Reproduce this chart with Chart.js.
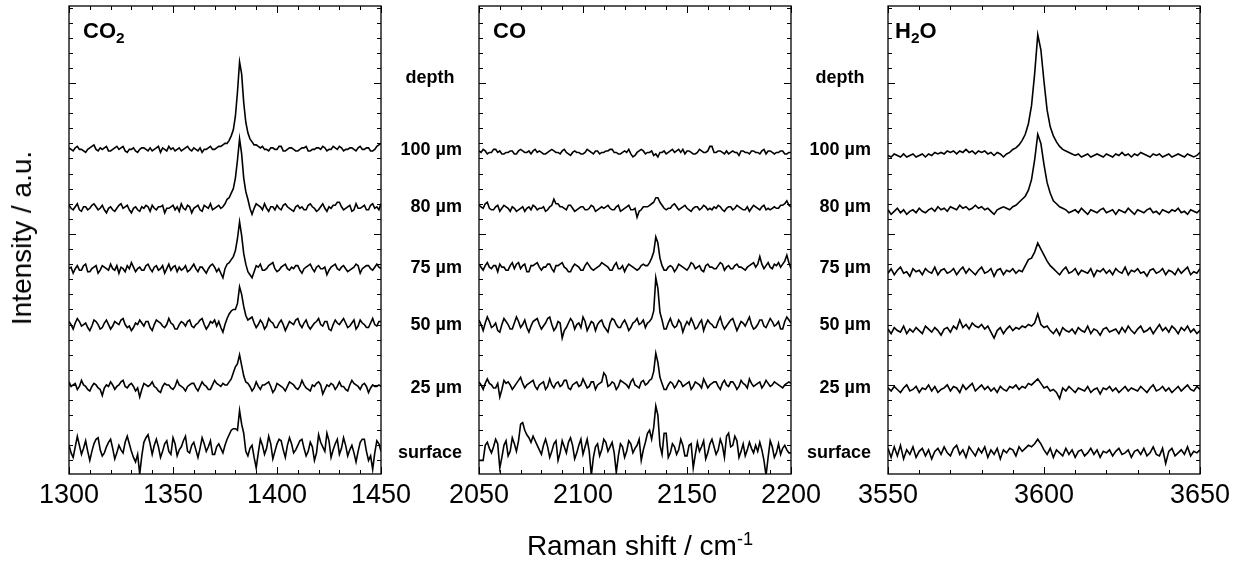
<!DOCTYPE html>
<html>
<head>
<meta charset="utf-8">
<script src="https://cdn.jsdelivr.net/npm/chart.js@4.4.1/dist/chart.umd.min.js"></script>
<style>
  body { margin: 0; background: #fff; }
  #wrap { position: relative; width: 1236px; height: 564px; overflow: hidden;
          font-family: 'Liberation Sans', Arial, sans-serif; color: #000; }
  #wrap canvas { position: absolute; left: 0; top: 0; }
  .lbl { position: absolute; white-space: nowrap; line-height: 1; }
  .depth { font-weight: bold; font-size: 18px; }
  .gas { font-weight: bold; font-size: 22px; }
  .axt { font-size: 28px; }
  sub { font-size: 0.7em; vertical-align: -0.3em; }
  sup { font-size: 0.65em; vertical-align: 0.6em; }
</style>
</head>
<body>
<div id="wrap">
  <canvas id="c0" width="1236" height="564"></canvas>
  <canvas id="c1" width="1236" height="564"></canvas>
  <canvas id="c2" width="1236" height="564"></canvas>
  <div class="lbl gas" style="left:83px;top:20px">CO<sub>2</sub></div>
  <div class="lbl gas" style="left:493px;top:20px">CO</div>
  <div class="lbl gas" style="left:895px;top:20px">H<sub>2</sub>O</div>
  <div class="lbl axt" style="left:22px;top:238px;transform:translate(-50%,-50%) rotate(-90deg)">Intensity / a.u.</div>
  <div class="lbl axt" style="left:640px;top:545px;transform:translate(-50%,-50%)">Raman shift / cm<sup>-1</sup></div>
</div>
<script>
// depth labels, top to bottom
const depths = ['100 µm', '80 µm', '75 µm', '50 µm', '25 µm', 'surface'];

// CO2 band, 1300-1450 cm-1, every 1 cm-1 (151 points); values relative to each trace baseline
const co2Shift = Array.from({length: 151}, (_, i) => 1300 + i);
const co2_100 = [1,0,-1,1,2,0,0,-1,-2,0, 1,2,3,0,-1,1,0,1,2,-1, -1,0,1,2,0,1,2,-1,-2,0, 0,1,-1,-2,0,1,1,0,-1,1,
  -1,0,1,2,-2,1,0,-1,2,0, 1,-1,0,1,-1,0,1,2,0,-1, 1,0,-1,1,-2,0,0,1,2,0, 0,1,2,2,3,4,4,6,9,13,
  22,38,58,50,31,18,11,7,5,3, 3,2,1,2,0,0,-1,1,1,0, 0,2,2,-1,-1,0,1,1,0,-1, -1,0,1,1,2,-1,-1,0,0,1,
  1,0,2,1,-1,0,0,2,1,0, 2,1,-1,0,0,1,1,0,-1,1, 2,0,0,1,1,-1,-1,0,2,3, 4];
const co2_80 = [2,0,-1,1,3,-1,-2,1,1,-1, 0,2,3,1,-1,0,2,-1,-3,0, 1,-1,-2,0,2,3,0,1,2,-1, -3,0,1,-1,-2,1,0,2,1,-2,
  2,0,-1,1,1,2,-3,0,0,1, 2,-1,1,-2,3,0,-1,2,1,-3, 0,1,2,-1,-2,2,1,0,3,-1, 0,1,2,0,1,3,6,7,10,13,
  20,32,46,36,20,11,6,0,-4,0, 3,2,1,-1,3,0,-2,1,1,-1, 2,0,-1,2,3,1,0,-1,-2,1, 2,0,1,-1,-1,2,3,1,0,-2,
  -1,1,3,0,-2,1,0,2,2,4, 4,1,-1,0,1,2,-2,-1,3,0, 0,1,2,-1,-1,2,3,0,1,-1, 3];
const co2_75 = [0,1,-3,0,2,-1,-1,2,3,-2, -2,0,1,2,-3,-1,2,1,0,-1, 3,0,-1,2,-3,1,0,-2,2,0, 4,1,-2,0,1,-1,-1,2,3,0,
  -2,1,2,-1,0,2,-3,0,3,-1, 1,2,-2,1,-1,0,2,-2,-1,1, 3,0,-2,1,1,-1,-3,0,2,3, 1,-2,0,-3,-6,0,3,4,6,8,
  12,20,31,22,10,3,-2,-4,-6,-2, 2,1,3,-1,-1,0,2,3,4,0, -2,-1,1,2,3,0,-1,1,0,2, 2,-1,-3,0,1,2,3,0,-2,1,
  2,0,0,1,-4,-1,1,2,3,0, -1,1,2,0,-2,-1,0,1,3,2, -3,0,1,2,2,0,-1,1,3,1, 0];
const co2_50 = [2,0,-3,1,4,2,-1,0,1,-2, -4,-1,3,2,0,-3,-2,1,3,0, -3,-1,2,1,0,3,4,0,-2,-1, -4,-2,1,0,3,1,-1,2,2,-2,
  -4,0,3,2,1,-1,-2,0,4,1, 0,-3,-3,0,2,1,-1,2,3,-1, -2,0,1,3,4,0,-3,-1,2,1, 3,-1,2,-2,-5,0,4,7,9,10,
  10,14,25,20,12,6,3,4,5,1, -2,0,3,1,-3,-1,4,2,1,-2, -2,1,3,0,-4,-1,2,1,0,3, 4,0,-2,1,3,-1,-3,-1,1,2,
  4,0,-1,2,2,-3,-4,0,3,1, 0,2,4,1,-2,-1,1,3,-3,-1, 3,1,0,-2,-2,1,4,0,-1,2, 2];
const co2_25 = [3,0,1,2,-2,0,4,1,0,-2, -3,0,2,1,-1,-2,-6,-1,1,0, 3,1,-2,0,1,3,4,0,-1,1, 2,0,-3,-1,-7,-2,2,1,0,1,
  3,0,-1,-3,-4,0,2,1,1,-1, -2,0,4,1,0,-1,-3,0,1,2, 2,-1,-3,0,3,1,0,-2,-2,1, 4,2,1,0,2,1,1,3,5,9,
  13,15,21,14,7,3,2,0,-3,-1, 3,0,-2,1,1,2,3,0,-4,-2, 2,1,0,-1,-3,0,3,2,1,-1, -2,0,4,1,-1,-2,-3,1,0,2,
  3,1,-5,-2,1,0,2,1,-2,0, 3,0,0,-2,-3,1,4,2,1,0, -2,1,2,0,-4,-1,1,0,0,1, 0];
const co2_surf = [2,-3,-6,1,8,2,-4,0,5,-2, -8,-2,3,6,7,-1,-5,-3,1,4, 6,0,-7,-3,2,-1,-3,4,8,3, -2,-6,-9,-4,-17,-5,4,7,9,3,
  -4,2,6,1,-6,-2,3,5,-2,-4, 7,3,-5,-1,1,5,8,-2,-3,2, 4,-1,-6,0,7,3,-2,1,5,-4, -4,1,3,0,-3,2,6,9,12,13,
  13,12,25,16,10,-2,-5,0,2,-6, -13,-3,6,2,-4,0,8,3,-7,-2, 3,6,5,-1,-6,2,7,3,-3,-1, 2,5,6,0,-5,-2,4,1,-8,-3,
  9,4,1,-2,10,5,-6,-1,3,6, -4,0,7,2,-5,-1,2,-3,-9,-2, 4,6,6,-2,-8,-5,-14,-3,5,3, -2];
const co2Base = [156, 117, 77, 40, -1, -42];

// CO band, 2050-2200 cm-1, every 1 cm-1 (151 points)
const coShift = Array.from({length: 151}, (_, i) => 2050 + i);
const co_100 = [1,0,2,1,-1,0,0,2,2,0, 1,-1,-1,0,0,1,1,-1,-1,1, 2,1,0,0,1,-1,1,2,0,1, 0,-1,-1,0,1,2,1,0,0,-1,
  1,2,0,-1,-2,0,1,0,0,-1, -1,0,2,1,0,-1,1,1,-1,0, 0,1,1,2,2,0,0,-1,-1,0, 1,0,2,-1,-3,-2,0,1,2,1,
  -1,0,0,1,-2,-1,-3,0,0,1, -1,0,1,2,0,1,2,0,2,-1, 1,1,0,-1,-1,0,2,1,0,0, 1,4,4,0,0,1,1,0,-1,1,
  -1,0,1,0,0,-2,1,1,0,0, -1,1,1,0,0,-1,1,2,-1,1, 1,0,-1,0,0,1,1,-1,-1,0, 0];
const co_80 = [2,1,0,3,4,0,-1,-1,1,2, -2,0,2,1,0,-2,1,0,-2,-1, 0,1,-2,0,1,-1,2,1,-1,0, 0,1,-2,-1,1,2,6,3,3,1,
  1,0,-1,2,2,0,-2,-1,0,1, 1,-1,-1,0,2,1,-2,-1,0,1, 0,1,2,0,-1,-1,1,2,-2,-1, 0,1,2,-1,-1,0,-6,-2,-1,1,
  1,1,2,3,4,7,7,4,2,0, -1,0,0,2,3,1,-1,0,1,2, 0,-1,-2,0,1,1,-1,0,2,1, -1,0,-1,1,0,2,1,-1,-2,0,
  1,1,-1,0,2,1,0,-1,-1,1, -2,0,2,1,0,-1,1,2,-1,0, -1,0,1,0,0,2,2,3,5,2, 1];
const co_75 = [2,0,-2,1,3,0,-1,1,1,-3, 2,0,0,-2,-2,1,3,-1,2,3, -1,1,2,-3,-3,1,1,2,3,0, -2,0,0,2,2,-1,-3,1,1,2,
  3,0,-1,-3,-3,0,2,1,0,-2, -2,1,3,1,-1,-2,-1,0,1,3, 2,1,0,-2,-2,1,3,-1,-1,1, -3,0,2,1,0,-1,-2,-1,1,2,
  1,1,3,6,10,20,16,6,1,-2, -2,0,1,0,-3,-1,2,1,0,-1, -2,0,3,2,-1,0,1,-2,-3,1, 2,0,0,-1,-1,1,3,2,-2,0,
  1,-1,-1,1,2,0,0,-1,-2,0, 1,2,3,0,2,7,2,-1,1,3, 0,-1,2,1,3,0,2,4,8,3, -1];
const co_50 = [3,0,-4,1,5,2,-2,-1,1,-4, -5,0,4,2,0,-3,-3,1,5,2, -2,0,3,-2,-5,-1,2,3,4,0, -3,-1,1,4,5,0,-4,-2,2,1,
  -9,-4,-2,1,4,2,-3,0,1,-2, 5,2,-4,-1,2,1,-4,0,2,3, -1,-3,-5,1,4,3,0,-2,-2,1, 3,0,-4,-2,1,2,4,0,1,3,
  -2,1,2,4,9,31,24,8,3,-3, -3,1,4,0,-2,-1,3,1,-5,-1, 2,0,4,1,-3,-2,1,3,-4,0, 3,1,0,-2,-2,2,5,0,-3,-1,
  1,3,4,0,-4,-1,2,1,-1,2, 5,0,-3,-2,0,3,3,-1,-2,1, 4,2,-1,0,2,-3,-3,2,5,3, 1];
const co_25 = [2,0,-3,1,4,1,0,-2,-2,1, -8,-3,3,1,2,0,-3,-1,1,3, 5,1,-2,0,1,2,3,-1,-3,0, 1,2,-3,-1,4,0,-2,1,2,-1,
  0,3,3,-2,-3,0,1,2,-1,0, 4,1,-2,-1,2,2,-3,0,1,2, 8,6,-1,0,2,1,-3,-1,3,2, 1,0,-2,2,4,0,-1,-2,2,3,
  0,1,3,4,9,21,15,5,1,-3, -3,0,2,1,-2,0,3,2,-1,0, 1,2,-3,-1,2,1,0,-2,4,1, -2,0,1,2,2,-1,-3,1,3,0,
  -1,2,2,0,-3,-1,3,1,0,-2, 4,1,-1,0,1,2,-2,0,3,1, -1,0,2,1,0,-1,-2,0,1,2, 1];
const co_surf = [-8,-8,-8,2,4,0,-3,1,6,3, -13,-6,2,5,-5,-2,7,3,-2,5, 16,17,12,9,7,4,8,5,2,-1, -4,2,6,1,-6,-2,3,5,-8,-3,
  5,1,-3,4,7,2,-7,-3,2,6, -4,1,6,-2,-18,-6,1,3,-5,-1, 6,4,-2,1,4,-3,-16,-5,3,1, -6,-2,5,3,-3,0,2,6,-8,-1,
  4,10,12,6,14,28,22,2,-4,10, 10,-6,-3,3,1,-4,-1,6,2,-5, -5,2,3,-13,-4,4,-2,1,5,-7, -3,3,6,1,-4,-1,6,2,-6,8,
  10,1,2,8,5,-6,-2,3,-5,-1, 4,0,-3,2,-2,4,-1,-8,-18,-6, 5,1,-6,-3,3,-4,0,2,-1,-3, -3];
const coBase = [154, 117, 78, 40, 0, -42];

// H2O band, 3550-3650 cm-1, every 1 cm-1 (101 points)
const h2oShift = Array.from({length: 101}, (_, i) => 3550 + i);
const h2o_100 = [0,-1,1,0,-1,1,-1,0,1,-1, 0,1,-1,1,0,2,1,2,1,3, 2,3,1,3,2,4,2,3,1,3, 2,3,1,2,0,2,1,-1,1,2,
  4,5,7,10,14,21,33,54,80,70, 49,30,19,13,9,6,4,3,2,1, 0,1,-1,0,1,-1,0,1,0,-1, 1,0,-1,1,0,2,0,1,-1,1,
  0,2,1,0,-1,1,0,1,-1,0, 1,-1,0,1,0,-1,1,0,-1,0,2];
const h2o_80 = [1,-2,0,2,-1,1,-2,0,1,-1, 2,0,-1,1,2,0,3,1,2,0, 3,2,1,4,2,3,1,2,4,2, 3,1,2,0,-2,1,2,3,2,1,
  3,4,6,8,10,14,21,34,51,45, 31,19,12,7,5,3,2,1,-1,0, 1,-1,2,0,-2,1,0,-1,1,2, -1,0,1,-2,1,0,-1,2,0,-2,
  1,0,-1,1,2,-1,0,-2,1,0, -1,1,0,2,-1,0,-2,1,0,-1,1];
const h2o_75 = [-1,2,-2,1,3,-1,0,-3,2,0, 1,-2,2,0,-1,3,-2,1,2,-1, 0,2,-2,1,3,-1,2,0,-2,1, 3,-1,0,2,-3,1,2,-2,1,0,
  2,-1,1,0,4,8,9,13,19,15, 11,7,4,2,0,-2,1,3,-1,0, 2,-2,1,0,-1,2,-3,1,0,2, -1,1,-2,2,0,-1,3,-2,1,0,
  2,-1,0,-3,1,2,-1,0,2,-2, 1,0,-2,2,-1,1,3,-2,0,-1,2];
const h2o_50 = [1,-2,2,0,-1,3,-2,1,-1,2, 0,-2,3,1,-1,2,0,-3,1,2, -1,3,1,7,2,4,1,5,3,2, 4,1,3,-1,-5,0,2,-2,1,3,
  0,2,1,3,2,4,3,5,11,4, 2,3,0,-2,1,-3,2,0,-1,1, -2,2,0,-1,3,-2,1,0,-3,1, 2,-1,0,1,-2,2,-1,3,0,-2,
  1,3,-1,0,2,-2,1,4,0,2, -1,3,1,-2,2,0,3,-1,1,-2,0];
const h2o_25 = [1,-1,2,0,-2,1,3,-1,0,2, -2,1,0,3,-1,2,-2,0,1,3, -1,2,1,-2,3,0,2,4,-1,1, 3,0,2,-1,1,-2,2,0,-1,2,
  1,3,0,2,1,4,3,5,7,4, 1,2,-1,0,-2,-6,1,-1,2,0, -2,1,0,-1,2,-2,0,1,-3,1, 0,2,-1,1,-2,0,2,-1,1,0,
  -1,2,0,-2,1,3,-1,0,2,-1, 1,-2,0,2,-1,1,3,0,-1,2,0];
const h2o_surf = [3,-3,4,-2,5,-4,2,-1,4,-3, 1,3,-2,2,-4,1,3,-1,4,0, -2,3,5,-1,2,-3,4,1,-2,3, 0,4,-3,2,-1,3,-4,2,0,3,
  2,-2,4,1,3,5,4,6,9,6, 2,-1,3,-3,2,0,-2,3,-1,2, -3,1,2,-2,0,3,-1,2,-3,1, 0,2,-2,1,3,-1,0,2,-3,1,
  2,-1,3,-2,0,4,-1,-2,3,-7, 1,3,-2,0,2,-1,4,-2,1,0,2];
const h2oBase = [152, 115, 75, 36, -3, -45];

const panels = [
  { id: 'c0', shift: co2Shift, traces: [co2_100, co2_80, co2_75, co2_50, co2_25, co2_surf], base: co2Base,
    min: 1300, max: 1450, left: 69, right: 381 },
  { id: 'c1', shift: coShift, traces: [co_100, co_80, co_75, co_50, co_25, co_surf], base: coBase,
    min: 2050, max: 2200, left: 479, right: 791 },
  { id: 'c2', shift: h2oShift, traces: [h2o_100, h2o_80, h2o_75, h2o_50, h2o_25, h2o_surf], base: h2oBase,
    min: 3550, max: 3650, left: 888, right: 1200 },
];

// frame + inward ticks on all four sides
const frameTicks = {
  id: 'frameTicks',
  afterDraw(chart) {
    const { ctx, chartArea: a, scales: { x, y } } = chart;
    ctx.save();
    ctx.strokeStyle = '#000';
    ctx.lineWidth = 1;
    ctx.beginPath();
    for (let v = x.min; v <= x.max; v += 10) {
      const px = Math.round(x.getPixelForValue(v)) + 0.5;
      const len = v % 50 === 0 ? 7 : 4;
      ctx.moveTo(px, a.bottom); ctx.lineTo(px, a.bottom - len);
      ctx.moveTo(px, a.top); ctx.lineTo(px, a.top + len);
    }
    for (let v = -50; v <= 250; v += 10) {
      const py = Math.round(y.getPixelForValue(v)) + 0.5;
      const len = v % 100 === 0 ? 7 : 4;
      ctx.moveTo(a.left, py); ctx.lineTo(a.left + len, py);
      ctx.moveTo(a.right, py); ctx.lineTo(a.right - len, py);
    }
    ctx.stroke();
    ctx.lineWidth = 1.3;
    ctx.strokeRect(a.left, a.top, a.right - a.left, a.bottom - a.top);
    ctx.restore();
  }
};

panels.forEach(p => {
  const datasets = p.traces.map((tr, t) => ({
    label: depths[t],
    data: p.shift.map((s, i) => ({ x: s, y: tr[i] + p.base[t] })),
    borderColor: '#000', borderWidth: 1.6, pointRadius: 0, tension: 0, fill: false
  }));
  new Chart(document.getElementById(p.id), {
    type: 'line',
    data: { datasets },
    options: {
      responsive: false, animation: false, devicePixelRatio: 1,
      layout: { padding: { left: p.left, right: 1236 - p.right, top: 6, bottom: 50 } },
      plugins: { legend: { display: false }, tooltip: { enabled: false } },
      scales: {
        x: { type: 'linear', min: p.min, max: p.max,
             afterFit: s => { s.height = 40; },
             grid: { display: false, drawTicks: false }, border: { display: false },
             ticks: { stepSize: 50, padding: 5, maxRotation: 0, color: '#000',
                      font: { family: "'Liberation Sans', Arial, sans-serif", size: 27 },
                      callback: v => String(v) } },
        y: { display: false, min: -59, max: 251 }
      }
    },
    plugins: [frameTicks]
  });
});

// depth labels in the two gaps
const depthTops = [149, 206, 267, 324, 387, 452];
const wrap = document.getElementById('wrap');
[{ right: 462, mid: 430 }, { right: 871, mid: 840 }].forEach(g => {
  const d = document.createElement('div');
  d.className = 'lbl depth';
  d.textContent = 'depth';
  d.style.left = g.mid + 'px';
  d.style.top = (77 - 9) + 'px';
  d.style.transform = 'translateX(-50%)';
  wrap.appendChild(d);
  depths.forEach((txt, k) => {
    const e = document.createElement('div');
    e.className = 'lbl depth';
    e.textContent = txt;
    e.style.right = (1236 - g.right) + 'px';
    e.style.top = (depthTops[k] - 9) + 'px';
    wrap.appendChild(e);
  });
});
</script>
</body>
</html>
